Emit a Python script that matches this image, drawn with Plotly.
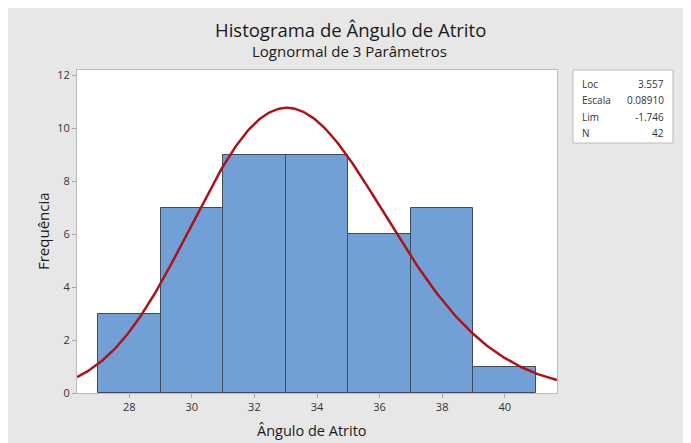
import numpy as np
import plotly.graph_objects as go

# Data
bin_centers = [28, 30, 32, 34, 36, 38, 40]
bin_width = 2
counts = [3, 7, 9, 9, 6, 7, 1]
x_ticks = [28, 30, 32, 34, 36, 38, 40]
y_ticks = [0, 2, 4, 6, 8, 10, 12]

# Fitted 3-parameter lognormal (from the legend box)
fit_loc = 3.557
fit_scale = 0.08910
fit_thresh = -1.746
n_obs = 42
stat_labels = ["Loc", "Escala", "Lim", "N"]
stat_values = ["3.557", "0.08910", "-1.746", "42"]

x_min, x_max = 26.33, 41.67
xs = np.linspace(x_min, x_max, 300)
ys_shift = xs - fit_thresh
pdf = np.exp(-(np.log(ys_shift) - fit_loc) ** 2 / (2 * fit_scale ** 2)) / (ys_shift * fit_scale * np.sqrt(2 * np.pi))
curve = pdf * n_obs * bin_width

fig = go.Figure()
fig.add_trace(go.Bar(
    x=bin_centers, y=counts, width=[bin_width] * len(counts),
    marker=dict(color="#729fd6", line=dict(color="#3f4a5a", width=1)),
    hoverinfo="x+y", showlegend=False,
))
fig.add_trace(go.Scatter(
    x=xs, y=curve, mode="lines",
    line=dict(color="#a8161c", width=2.5),
    showlegend=False, hoverinfo="skip",
))

FONT = "Open Sans"
BG = "#e7e7e7"

# page has an 8px body margin; plot area in page px: x 77..557, y 70..393
L, T, PW, PH = 69, 62, 480, 323
fig.update_layout(
    width=691, height=443,
    margin=dict(l=L, r=691 - L - PW, t=T, b=443 - T - PH),
    paper_bgcolor=BG, plot_bgcolor="white",
    font=dict(family=FONT, color="#222"),
    bargap=0,
    xaxis=dict(
        range=[x_min, x_max], tickvals=x_ticks, ticktext=[str(v) for v in x_ticks],
        ticks="outside", ticklen=4, tickcolor="#aaa", showgrid=False, zeroline=False,
        showline=True, linecolor="#bbb", linewidth=1, mirror=True,
        tickfont=dict(size=11, color="#333"),
    ),
    yaxis=dict(
        range=[0, 12.2], tickvals=y_ticks, ticktext=[str(v) for v in y_ticks],
        ticks="outside", ticklen=4, tickcolor="#aaa", showgrid=False, zeroline=False,
        showline=True, linecolor="#bbb", linewidth=1, mirror=True,
        tickfont=dict(size=11, color="#333"),
    ),
)

# helpers: page px -> paper coords
px = lambda v: (v - 8 - L) / PW
py = lambda v: 1 - (v - 8 - T) / PH

def label(text, x, y, size, xanchor="center", angle=0):
    fig.add_annotation(text=text, xref="paper", yref="paper", x=px(x), y=py(y),
                       showarrow=False, xanchor=xanchor, yanchor="middle", textangle=angle,
                       font=dict(size=size, color="#1a1a1a", family=FONT))

label("Histograma de Ângulo de Atrito", 350, 29.5, 18.5)
label("Lognormal de 3 Parâmetros", 349, 51, 15)
label("Ângulo de Atrito", 312, 430, 14.5)
label("Frequência", 43, 231, 15, angle=-90)

# Stats box
fig.add_shape(type="rect", xref="paper", yref="paper",
              x0=px(573), x1=px(673), y0=py(143), y1=py(70),
              fillcolor="white", line=dict(color="#bbb", width=1))
for i, (lab, val) in enumerate(zip(stat_labels, stat_values)):
    yy = 84 + i * 16.3
    fig.add_annotation(text=lab, xref="paper", yref="paper", x=px(580), y=py(yy),
                       xanchor="left", yanchor="middle", showarrow=False,
                       font=dict(size=10, color="#333", family=FONT))
    fig.add_annotation(text=val, xref="paper", yref="paper", x=px(666), y=py(yy),
                       xanchor="right", yanchor="middle", showarrow=False,
                       font=dict(size=10, color="#333", family=FONT))

fig.write_html("out.html")
